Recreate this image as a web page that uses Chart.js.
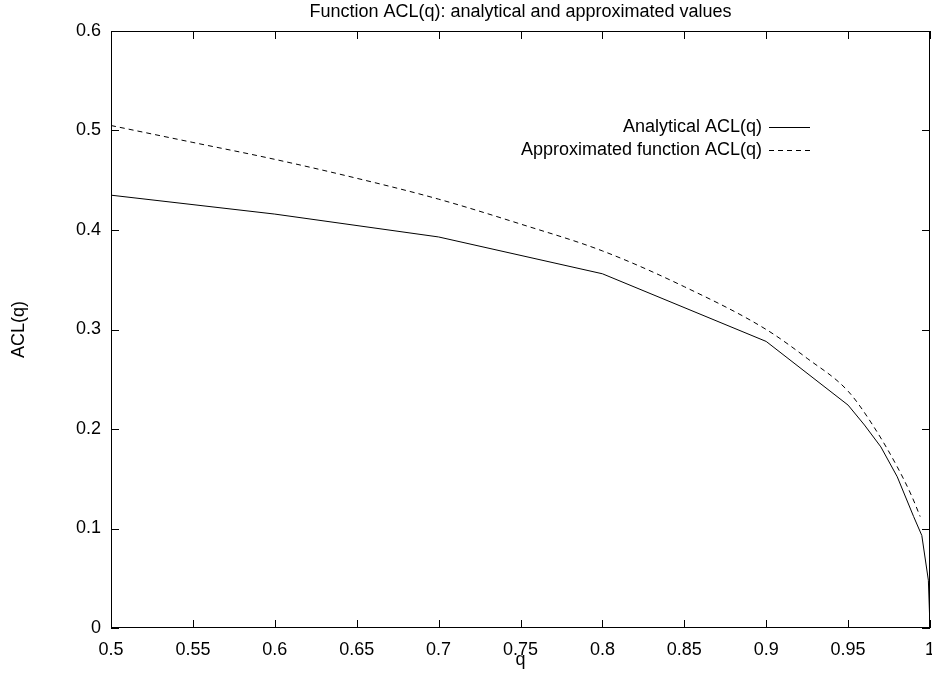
<!DOCTYPE html>
<html>
<head>
<meta charset="utf-8">
<script src="https://cdn.jsdelivr.net/npm/chart.js@4/dist/chart.umd.min.js"></script>
<style>
  html, body { margin: 0; padding: 0; background: #fff; }
  canvas { display: block; }
</style>
</head>
<body>
<canvas id="grafica" width="932" height="677"></canvas>
<script>
const qAnalytical = [0.5, 0.6, 0.7, 0.8, 0.9, 0.95, 0.96, 0.97, 0.98, 0.99, 0.995, 0.999, 1.0];
const aclAnalytical = [0.435, 0.416, 0.393, 0.356, 0.288, 0.224, 0.204, 0.182, 0.152, 0.112, 0.093, 0.048, 0];

const qApprox = [0.5, 0.55, 0.6, 0.65, 0.7, 0.75, 0.8, 0.85, 0.9, 0.925, 0.95, 0.965, 0.98, 0.989, 0.994];
const aclApprox = [0.505, 0.488, 0.471, 0.452, 0.431, 0.406, 0.379, 0.343, 0.300, 0.271, 0.238, 0.204, 0.162, 0.132, 0.112];

const xTicks = [0.5, 0.55, 0.6, 0.65, 0.7, 0.75, 0.8, 0.85, 0.9, 0.95, 1];
const yTicks = [0, 0.1, 0.2, 0.3, 0.4, 0.5, 0.6];

const titulo = "Function ACL(q): analytical and approximated values";
const fuente = "'Liberation Sans', Arial, Helvetica, sans-serif";

// marco y marcas hacia dentro, como en gnuplot
const marco = {
  id: "marco",
  afterDatasetsDraw(chart) {
    const { ctx, chartArea: a, scales } = chart;
    const largo = 8;
    ctx.save();
    ctx.strokeStyle = "#000";
    ctx.lineWidth = 1;
    ctx.setLineDash([]);
    ctx.strokeRect(a.left + 0.5, a.top + 0.5, a.right - a.left - 1, a.bottom - a.top - 1);
    ctx.beginPath();
    xTicks.forEach((v) => {
      const x = Math.round(scales.x.getPixelForValue(v)) + 0.5;
      ctx.moveTo(x, a.bottom);
      ctx.lineTo(x, a.bottom - largo);
      ctx.moveTo(x, a.top);
      ctx.lineTo(x, a.top + largo);
    });
    yTicks.forEach((v) => {
      const y = Math.round(scales.y.getPixelForValue(v)) + 0.5;
      ctx.moveTo(a.left, y);
      ctx.lineTo(a.left + largo, y);
      ctx.moveTo(a.right, y);
      ctx.lineTo(a.right - largo, y);
    });
    ctx.stroke();

    // titulo centrado sobre el area del grafico
    ctx.font = "18px " + fuente;
    ctx.fillStyle = "#000";
    ctx.textAlign = "center";
    ctx.textBaseline = "middle";
    ctx.fillText(titulo, (a.left + a.right) / 2, 12);
    ctx.restore();
  },
};

// leyenda dentro del area, texto a la izquierda de la muestra
const leyenda = {
  id: "leyenda",
  afterDatasetsDraw(chart) {
    const { ctx } = chart;
    const xTexto = 762;
    const xLinea1 = 769;
    const xLinea2 = 810;
    const filas = [127, 150];
    ctx.save();
    ctx.font = "18px " + fuente;
    ctx.fillStyle = "#000";
    ctx.textAlign = "right";
    ctx.textBaseline = "middle";
    chart.data.datasets.forEach((ds, i) => {
      const y = filas[i];
      ctx.fillText(ds.label, xTexto, y);
      ctx.beginPath();
      ctx.strokeStyle = "#000";
      ctx.lineWidth = 1;
      ctx.setLineDash(ds.borderDash || []);
      ctx.moveTo(xLinea1, y + 0.5);
      ctx.lineTo(xLinea2, y + 0.5);
      ctx.stroke();
    });
    ctx.restore();
  },
};

const $grafica = document.querySelector("#grafica");
new Chart($grafica, {
  type: "line",
  data: {
    datasets: [
      {
        label: "Analytical ACL(q)",
        data: qAnalytical.map((q, i) => ({ x: q, y: aclAnalytical[i] })),
        borderColor: "#000",
        borderWidth: 1,
        pointRadius: 0,
        tension: 0,
        fill: false,
      },
      {
        label: "Approximated function ACL(q)",
        data: qApprox.map((q, i) => ({ x: q, y: aclApprox[i] })),
        borderColor: "#000",
        borderWidth: 1,
        borderDash: [5, 4],
        pointRadius: 0,
        cubicInterpolationMode: "monotone",
        fill: false,
      },
    ],
  },
  options: {
    responsive: false,
    animation: false,
    devicePixelRatio: 1,
    layout: { padding: { left: 0, right: 2, top: 31, bottom: 0 } },
    scales: {
      x: {
        type: "linear",
        min: 0.5,
        max: 1,
        afterBuildTicks: (scale) => {
          scale.ticks = xTicks.map((v) => ({ value: v }));
        },
        afterFit: (scale) => {
          scale.height = 49;
          scale.paddingLeft = 0;
          scale.paddingRight = 0;
        },
        ticks: {
          color: "#000",
          font: { family: fuente, size: 18 },
          padding: 11,
          maxRotation: 0,
          autoSkip: false,
          callback: (v) => String(Number(v.toFixed(2))),
        },
        grid: { display: false, drawTicks: false },
        border: { display: false },
        title: {
          display: true,
          text: "q",
          color: "#000",
          font: { family: fuente, size: 18 },
          padding: { top: 0, bottom: 6 },
        },
      },
      y: {
        type: "linear",
        min: 0,
        max: 0.6,
        afterBuildTicks: (scale) => {
          scale.ticks = yTicks.map((v) => ({ value: v }));
        },
        afterFit: (scale) => {
          scale.width = 111;
          scale.paddingTop = 0;
          scale.paddingBottom = 0;
        },
        ticks: {
          color: "#000",
          font: { family: fuente, size: 18 },
          padding: 10,
          autoSkip: false,
          callback: (v) => String(Number(v.toFixed(1))),
        },
        grid: { display: false, drawTicks: false },
        border: { display: false },
        title: {
          display: true,
          text: "ACL(q)",
          color: "#000",
          font: { family: fuente, size: 18 },
          padding: { top: 8, bottom: 0 },
        },
      },
    },
    plugins: {
      legend: { display: false },
      tooltip: { enabled: false },
      title: { display: false },
    },
  },
  plugins: [marco, leyenda],
});
</script>
</body>
</html>
